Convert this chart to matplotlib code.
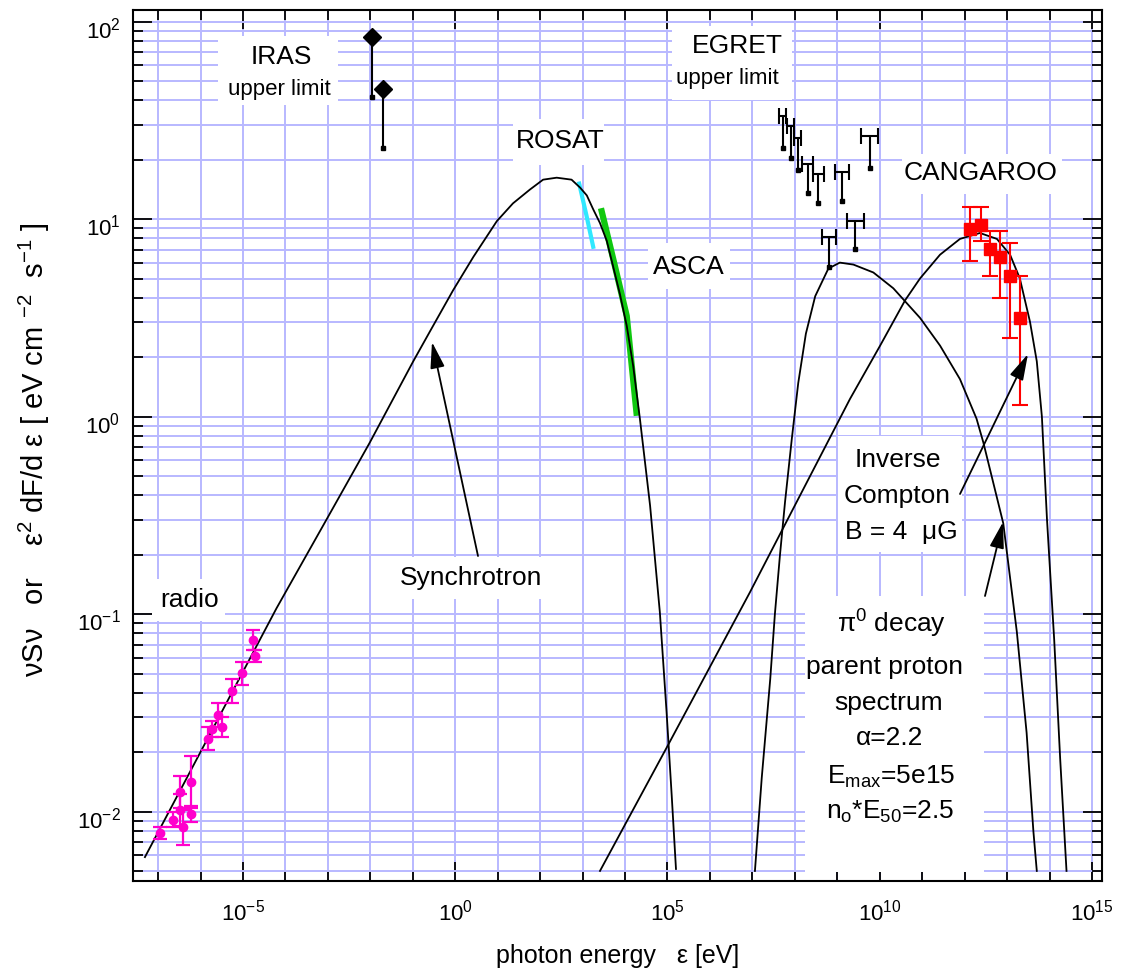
import numpy as np
import matplotlib

matplotlib.use("Agg")
import matplotlib.pyplot as plt
from matplotlib.patches import Rectangle
from matplotlib.ticker import FixedLocator, LogFormatterSciNotation, NullFormatter
from matplotlib.transforms import ScaledTranslation

plt.rcParams["font.family"] = ["Liberation Sans", "DejaVu Sans"]
plt.rcParams["mathtext.fontset"] = "custom"
plt.rcParams["mathtext.rm"] = "Liberation Sans"
plt.rcParams["mathtext.it"] = "Liberation Sans:italic"
plt.rcParams["mathtext.bf"] = "Liberation Sans:bold"

# all values are log10 (energy in eV, flux in eV cm^-2 s^-1)
sync_log_e = [-7.31, -4.21, -3.03, -2.01, -0.99, -0.60, -0.05, 0.43, 0.98, 1.36, 1.76, 2.07,
              2.39, 2.74, 2.94, 3.10, 3.25, 3.41, 3.57, 3.72, 3.88, 4.04, 4.19, 4.35,
              4.59, 4.82, 4.98, 5.10, 5.20]
sync_log_f = [-2.23, -0.97, -0.52, -0.13, 0.28, 0.43, 0.64, 0.81, 0.99, 1.08, 1.15, 1.20,
              1.21, 1.20, 1.16, 1.12, 1.05, 0.98, 0.89, 0.76, 0.62, 0.46, 0.26, -0.01,
              -0.45, -0.99, -1.50, -1.92, -2.29]

ic_log_e = [3.41, 5.02, 6.94, 9.30, 10.01, 10.60, 10.95, 11.42, 11.89, 12.36, 12.76, 13.07,
            13.30, 13.54, 13.70, 13.82, 13.94, 14.11, 14.25, 14.40]
ic_log_f = [-2.30, -1.66, -0.89, 0.09, 0.36, 0.59, 0.70, 0.82, 0.90, 0.93, 0.90, 0.82,
            0.70, 0.48, 0.28, 0.00, -0.52, -1.13, -1.73, -2.30]

pi0_log_e = [7.06, 7.22, 7.42, 7.53, 7.65, 7.77, 7.93, 8.08, 8.26, 8.48, 8.79, 9.06, 9.38,
             9.85, 10.32, 10.95, 11.42, 11.89, 12.28, 12.44, 12.91, 13.23, 13.46, 13.62, 13.70]
pi0_log_f = [-2.30, -1.83, -1.33, -1.00, -0.70, -0.43, -0.11, 0.17, 0.42, 0.61, 0.75, 0.78, 0.77,
             0.73, 0.65, 0.50, 0.36, 0.19, -0.01, -0.13, -0.54, -1.09, -1.60, -2.10, -2.30]

rosat_log_e = [2.92, 3.09, 3.25]
rosat_log_f = [1.18, 1.02, 0.86]
asca_log_e = [3.45, 3.72, 4.04, 4.27]
asca_log_f = [1.04, 0.80, 0.51, 0.02]

radio_log_e = [-6.96, -6.65, -6.48, -6.41, -6.48, -6.23, -6.23, -5.82, -5.73, -5.59,
               -5.50, -5.26, -5.02, -4.76, -4.72]
radio_log_f = [-2.11, -2.04, -1.99, -2.08, -1.90, -1.85, -2.01, -1.63, -1.58, -1.51,
               -1.57, -1.39, -1.30, -1.13, -1.21]
radio_log_err = [0.03, 0.04, 0.08, 0.09, 0.08, 0.13, 0.04, 0.06, 0.04, 0.06,
                 0.05, 0.06, 0.06, 0.05, 0.03]

iras_log_e = [-1.95, -1.71]
iras_log_f = [1.92, 1.66]
iras_log_f_low = [1.62, 1.36]

egret_log_e = [7.71, 7.90, 8.07, 8.30, 8.55, 9.11, 9.76, 9.42, 8.81]
egret_log_f = [1.52, 1.47, 1.41, 1.28, 1.23, 1.24, 1.42, 0.99, 0.91]
egret_log_f_low = [1.36, 1.31, 1.25, 1.13, 1.08, 1.09, 1.26, 0.85, 0.76]
egret_log_de = [0.08, 0.09, 0.08, 0.13, 0.13, 0.17, 0.20, 0.20, 0.17]

cang_log_e = [12.13, 12.39, 12.60, 12.83, 13.07, 13.30]
cang_log_f = [0.95, 0.97, 0.85, 0.81, 0.71, 0.50]
cang_log_f_hi = [1.06, 1.06, 0.94, 0.94, 0.88, 0.71]
cang_log_f_lo = [0.79, 0.89, 0.71, 0.60, 0.40, 0.06]

# frame of the plot in picture pixels
W, H = 1122, 979
L, R, T, B = 133, 1102, 11, 882
GRID = "#b8b8ff"


def fx(px):
    return (px - L) / (R - L)


def fy(py):
    return (B - py) / (B - T)


def p(v):
    return 10 ** np.asarray(v, dtype=float)


fig = plt.figure(figsize=(W / 100, H / 100), dpi=100)
ax = fig.add_axes((L / W, 1 - B / H, (R - L) / W, (B - T) / H))
ax.set_xscale("log")
ax.set_yscale("log")
ax.set_xlim(10 ** -7.591, 10 ** 15.236)
ax.set_ylim(10 ** -2.351, 10 ** 2.059)

ax.xaxis.set_major_locator(FixedLocator([10.0 ** k for k in range(-5, 16, 5)]))
ax.xaxis.set_minor_locator(FixedLocator([10.0 ** k for k in range(-7, 16) if k % 5]))
ax.yaxis.set_major_locator(FixedLocator([10.0 ** k for k in range(-2, 3)]))
ax.yaxis.set_minor_locator(FixedLocator([m * 10.0 ** k for k in range(-3, 2) for m in range(2, 10)]))
ax.xaxis.set_major_formatter(LogFormatterSciNotation())
ax.yaxis.set_major_formatter(LogFormatterSciNotation())
ax.xaxis.set_minor_formatter(NullFormatter())
ax.yaxis.set_minor_formatter(NullFormatter())

ax.set_axisbelow(True)
ax.grid(True, which="both", color=GRID, lw=1.4)
ax.tick_params(which="both", direction="in", top=True, right=True, width=1.3, colors="black")
ax.tick_params(which="major", length=14, labelsize=16)
ax.tick_params(which="minor", length=7)
ax.tick_params(axis="x", which="major", pad=13)
ax.tick_params(axis="y", which="major", pad=9)
shift = ScaledTranslation(0, -5 / 100, fig.dpi_scale_trans)
for lab in ax.get_yticklabels():
    lab.set_transform(lab.get_transform() + shift)
for s in ax.spines.values():
    s.set_linewidth(1.5)

# white label boxes that blank out the grid
boxes = [(218, 37, 338, 106), (672, 27, 792, 101), (513, 120, 604, 166),
         (648, 244, 730, 290), (902, 155, 1062, 195), (152, 580, 225, 622),
         (397, 558, 546, 600), (838, 437, 962, 553), (805, 597, 984, 873)]
for x0, y0, x1, y1 in boxes:
    ax.add_patch(Rectangle((fx(x0), fy(y1)), fx(x1) - fx(x0), fy(y0) - fy(y1),
                           transform=ax.transAxes, facecolor="white", edgecolor="none", zorder=1))

# model curves
ax.plot(p(rosat_log_e), p(rosat_log_f), color="#30e8ff", lw=3, zorder=3)
ax.plot(p(asca_log_e), p(asca_log_f), color="#10c810", lw=4.5, zorder=3)
for le, lf in [(sync_log_e, sync_log_f), (ic_log_e, ic_log_f), (pi0_log_e, pi0_log_f)]:
    ax.plot(p(le), p(lf), color="black", lw=1.3, zorder=4)

# radio
rx, ry = p(radio_log_e), p(radio_log_f)
rerr = [ry - p(np.array(radio_log_f) - radio_log_err), p(np.array(radio_log_f) + radio_log_err) - ry]
ax.errorbar(rx, ry, yerr=rerr, fmt="o", ms=6, color="#ff00cc", ecolor="#ff00cc",
            elinewidth=1.6, capsize=5, capthick=1.6, zorder=5)

# IRAS upper limits
ix, iy, ilo = p(iras_log_e), p(iras_log_f), p(iras_log_f_low)
ax.vlines(ix, ilo, iy, color="black", lw=1.5, zorder=5)
ax.plot(ix, ilo, "s", color="black", ms=2.5, zorder=5)
ax.plot(ix, iy, "D", color="black", ms=9, zorder=6)

# EGRET upper limits
ex, ey, elo = p(egret_log_e), p(egret_log_f), p(egret_log_f_low)
exerr = [ex - p(np.array(egret_log_e) - egret_log_de), p(np.array(egret_log_e) + egret_log_de) - ex]
ax.errorbar(ex, ey, xerr=exerr, fmt="none", ecolor="black", elinewidth=1.5,
            capsize=5.5, capthick=1.5, zorder=5)
ax.vlines(ex, elo, ey, color="black", lw=1.5, zorder=5)
ax.plot(ex, elo, "s", color="black", ms=2.5, zorder=5)

# CANGAROO
cx, cy = p(cang_log_e), p(cang_log_f)
cerr = [cy - p(cang_log_f_lo), p(cang_log_f_hi) - cy]
ax.errorbar(cx, cy, yerr=cerr, fmt="s", ms=8, color="red", ecolor="red",
            elinewidth=1.5, capsize=5.5, capthick=1.5, zorder=5)

# labels
txt = dict(transform=ax.transAxes, ha="center", va="center", zorder=7, color="black")
labels = [("IRAS", 281, 57, 19), ("upper limit", 279, 90, 16),
          ("EGRET", 737, 46, 19), ("upper limit", 727, 79, 16),
          ("ROSAT", 560, 141, 19), ("ASCA", 689, 267, 19), ("CANGAROO", 981, 173, 19),
          ("radio", 190, 600, 19), ("Synchrotron", 471, 578, 19),
          ("Inverse", 898, 460, 19), ("Compton", 897, 496, 19), ("B = 4  \u03bcG", 901, 532, 19),
          ("\u03c0$^0$ decay", 892, 624, 19), ("parent proton", 884, 667, 19),
          ("spectrum", 889, 703, 19), ("\u03b1=2.2", 890, 738, 19),
          ("E$_{\\mathrm{max}}$=5e15", 891, 777, 19), ("n$_{\\mathrm{o}}$*E$_{\\mathrm{50}}$=2.5", 890, 812, 19)]
for s, x, y, size in labels:
    ax.text(fx(x), fy(y), s, fontsize=size, **txt)

arrow = dict(arrowstyle="-|>,head_length=0.8,head_width=0.22", color="black", lw=1.3,
             mutation_scale=20, shrinkA=0, shrinkB=0)
for (x0, y0), (x1, y1) in [((478, 557), (432, 343)), ((960, 495), (1028, 355)),
                           ((985, 597), (1003, 523))]:
    ax.annotate("", xy=(fx(x1), fy(y1)), xytext=(fx(x0), fy(y0)),
                xycoords="axes fraction", textcoords="axes fraction",
                arrowprops=arrow, zorder=8)

ax.set_xlabel("photon energy   \u03b5 [eV]", fontsize=18)
ax.xaxis.set_label_coords(fx(618), fy(944))
ax.set_ylabel("\u03bdS\u03bd   or    \u03b5$^2$ dF/d \u03b5 [ eV cm $^{-2}$  s$^{-1}$ ]", fontsize=21)
ax.yaxis.set_label_coords(fx(52), fy(450))

fig.savefig("out.png", dpi=100)
